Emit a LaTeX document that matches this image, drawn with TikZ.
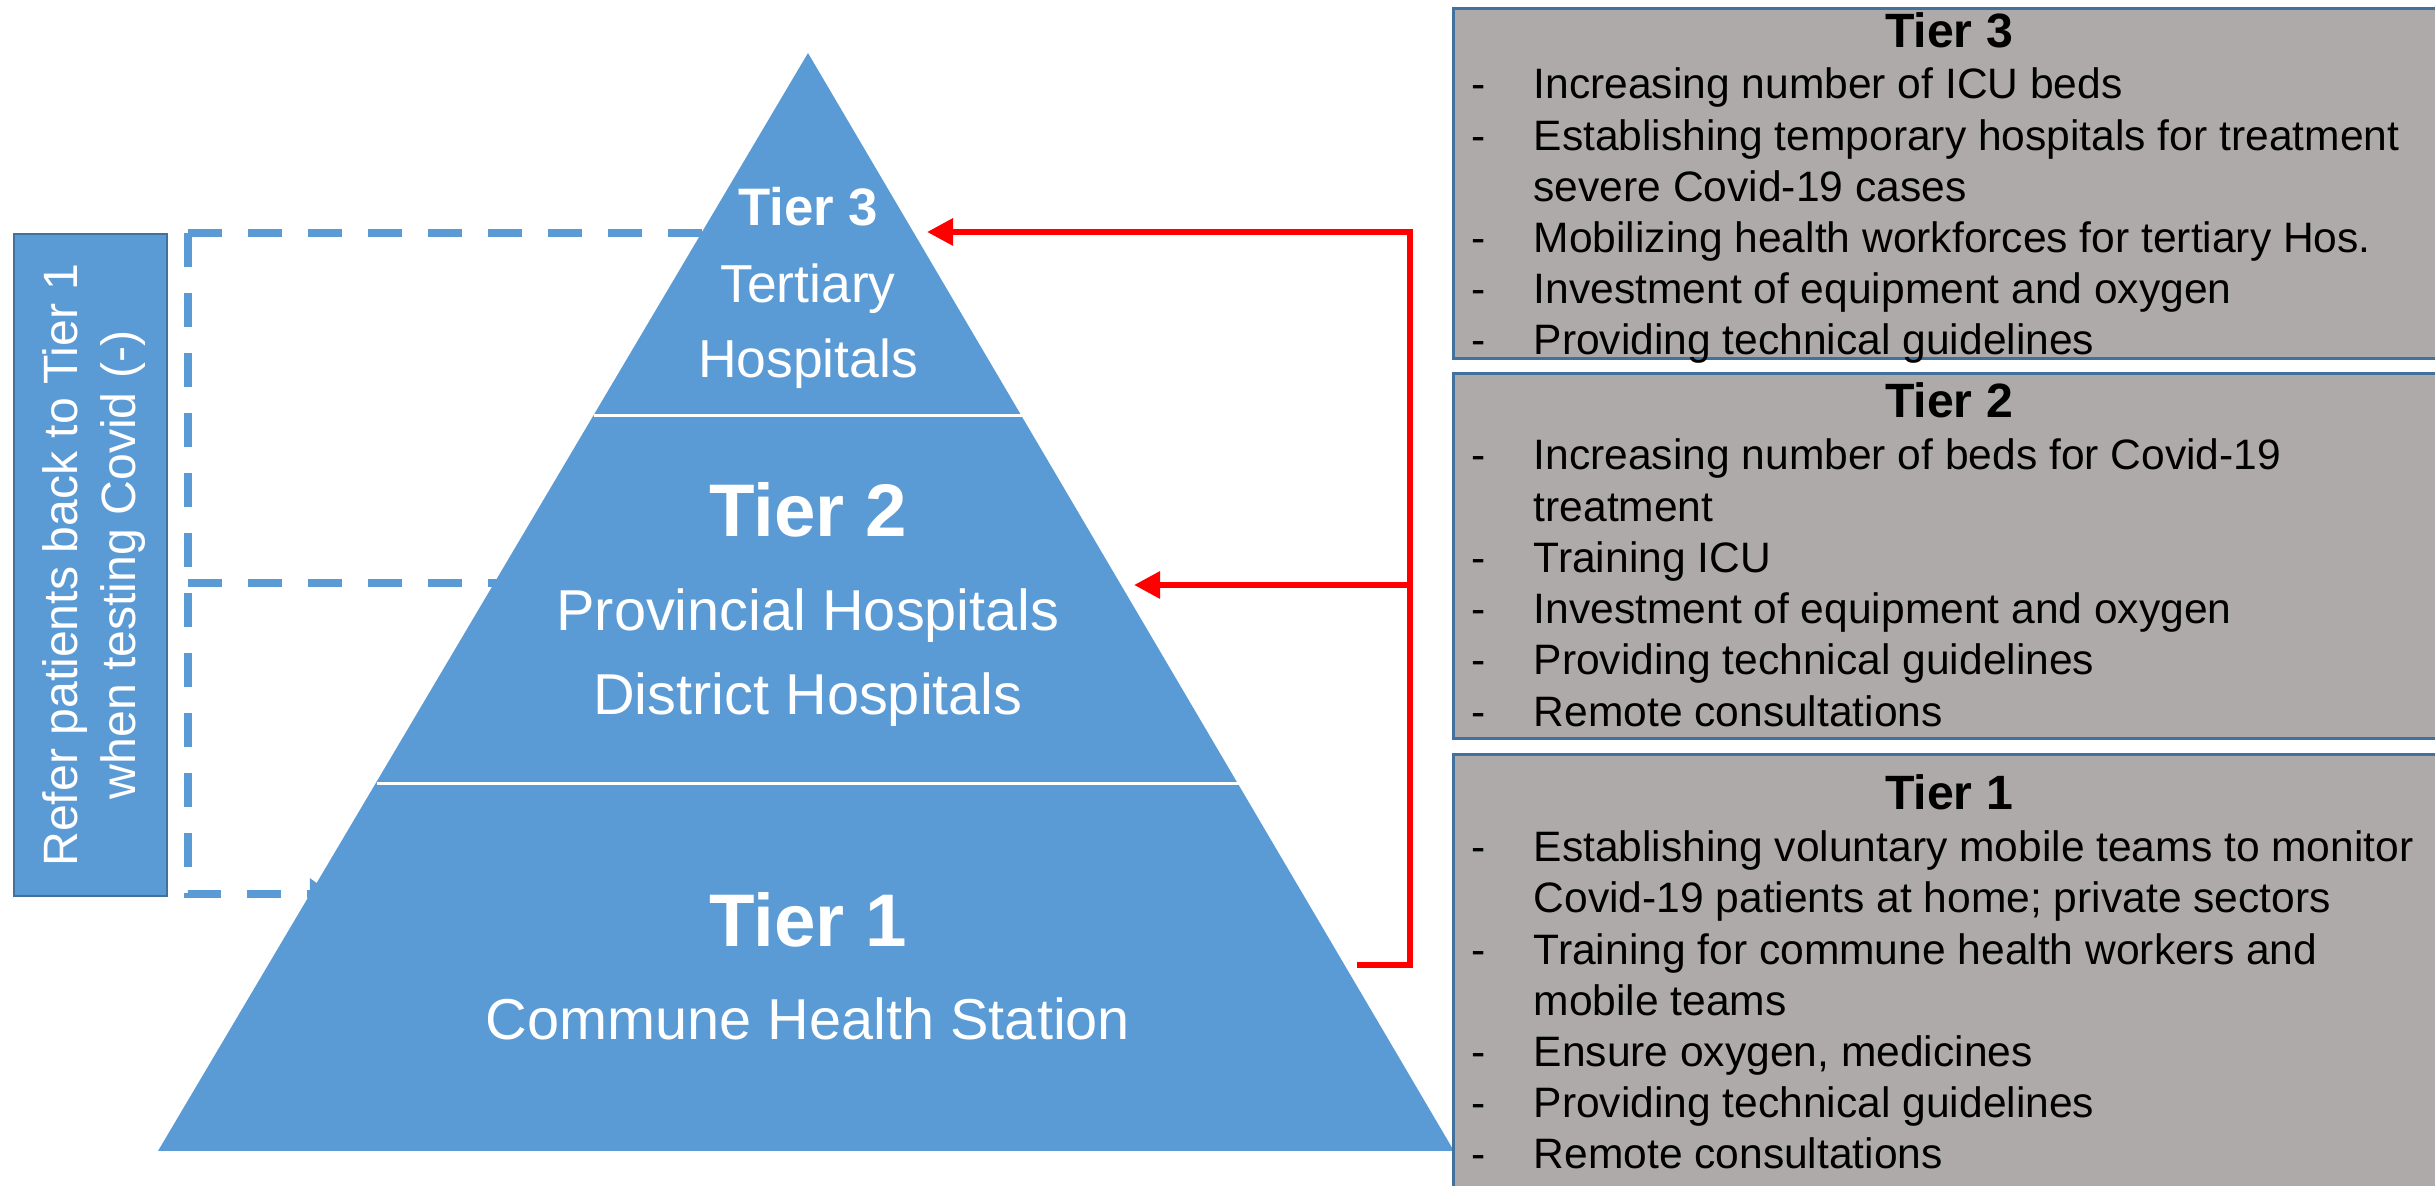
\documentclass[tikz,border=0pt]{standalone}
\usepackage{fontspec}
\setmainfont{Liberation Sans}
\usetikzlibrary{arrows.meta}
\definecolor{pyrblue}{HTML}{5B9BD5}
\definecolor{edgeblue}{HTML}{41719C}
\definecolor{boxgray}{HTML}{AEAAAA}
\definecolor{redline}{HTML}{FF0000}
\begin{document}
\begin{tikzpicture}[x=0.01cm,y=-0.01cm,
  pyrtext/.style={text=white, inner sep=0, anchor=base},
  boxline/.style={anchor=base west, inner sep=0, font=\fontsize{12.1}{14.5}\selectfont},
  boxhead/.style={anchor=base, inner sep=0, font=\fontsize{13.7}{16}\selectfont\bfseries},
  infobox/.style={fill=boxgray, draw=edgeblue, line width=0.03cm, anchor=north west, inner sep=0, minimum width=10cm},
  redconn/.style={draw=redline, line width=0.06cm},
  redarrow/.style={redconn, -{Triangle[length=0.26cm,width=0.26cm]}},
  dashconn/.style={draw=pyrblue, line width=0.085cm, dash pattern=on 0.34cm off 0.26cm},
]
\useasboundingbox (0,0) rectangle (2435,1186);

% ---------- left note box ----------
\node[fill=pyrblue, draw=edgeblue, line width=0.02cm, anchor=north west, inner sep=0,
      minimum width=1.53cm, minimum height=6.62cm] (refer) at (13,233) {};
\node[rotate=90, text=white, align=center, inner sep=0,
      font=\fontsize{13.7}{16.3}\selectfont] (refertxt) at (94,565)
      {Refer patients back to Tier 1\\when testing Covid (-)};

% ---------- dashed return connectors (behind pyramid) ----------
\coordinate (t3left) at (720,233);
\coordinate (dtop) at (188,233);
\coordinate (dmid) at (188,583);
\coordinate (dbot) at (188,894);
\coordinate (t2left) at (510,583);
\coordinate (t1left) at (332,894);
\draw[dashconn] (dtop) -- (t3left);
\draw[dashconn, -{Triangle[length=0.22cm,width=0.3cm]}] (dtop) -- (dbot) -- (t1left);
\draw[dashconn] (dmid) -- (t2left);

% ---------- pyramid ----------
\coordinate (apex) at (808,53);
\coordinate (bl) at (158,1151);
\coordinate (br) at (1454,1151);
\fill[pyrblue] (apex) -- (bl) -- (br) -- cycle;
\coordinate (d3l) at (594,416);
\coordinate (d3r) at (1022,416);
\coordinate (d2l) at (377,784);
\coordinate (d2r) at (1239,784);
\draw[white, line width=0.03cm] (d3l) -- (d3r);
\draw[white, line width=0.03cm] (d2l) -- (d2r);

\node[pyrtext, font=\fontsize{15}{18}\selectfont\bfseries] (p3a) at (808,226) {Tier 3};
\node[pyrtext, font=\fontsize{15.2}{18}\selectfont] (p3b) at (808,303) {Tertiary};
\node[pyrtext, font=\fontsize{15.2}{18}\selectfont] (p3c) at (808,378) {Hospitals};
\node[pyrtext, font=\fontsize{21.2}{24}\selectfont\bfseries] (p2a) at (808,537) {Tier 2};
\node[pyrtext, font=\fontsize{16.4}{20}\selectfont] (p2b) at (808,631) {Provincial Hospitals};
\node[pyrtext, font=\fontsize{16.4}{20}\selectfont] (p2c) at (808,715) {District Hospitals};
\node[pyrtext, font=\fontsize{21.2}{24}\selectfont\bfseries] (p1a) at (808,947) {Tier 1};
\node[pyrtext, font=\fontsize{16.4}{20}\selectfont] (p1b) at (808,1040) {Commune Health Station};

% ---------- red connectors ----------
\coordinate (rstub) at (1357,965);
\coordinate (rbot) at (1410,965);
\coordinate (rtop) at (1410,232);
\coordinate (rmid) at (1410,585);
\coordinate (t3in) at (927,232);
\coordinate (t2in) at (1134,585);
\draw[redarrow] (rstub) -- (rbot) -- (rtop) -- (t3in);
\draw[redarrow] (rmid) -- (t2in);

% ---------- right info boxes ----------
\node[infobox, minimum height=3.5cm] (box3) at (1452,7) {};
\node[infobox, minimum height=3.65cm] (box2) at (1452,372) {};
\node[infobox, minimum height=4.6cm] (box1) at (1452,753) {};

% Tier 3 box
\node[boxhead] (h3) at (1949,48) {Tier 3};
\node[boxline] (b3d1) at (1471,99) {-};
\node[boxline] (b3l1) at (1533,99) {Increasing number of ICU beds};
\node[boxline] (b3d2) at (1471,151) {-};
\node[boxline] (b3l2) at (1533,151) {Establishing temporary hospitals for treatment};
\node[boxline] (b3l3) at (1533,202) {severe Covid-19 cases};
\node[boxline] (b3d4) at (1471,253) {-};
\node[boxline] (b3l4) at (1533,253) {Mobilizing health workforces for tertiary Hos.};
\node[boxline] (b3d5) at (1471,304) {-};
\node[boxline] (b3l5) at (1533,304) {Investment of equipment and oxygen};
\node[boxline] (b3d6) at (1471,355) {-};
\node[boxline] (b3l6) at (1533,355) {Providing technical guidelines};

% Tier 2 box
\node[boxhead] (h2) at (1949,418) {Tier 2};
\node[boxline] (b2d1) at (1471,470) {-};
\node[boxline] (b2l1) at (1533,470) {Increasing number of beds for Covid-19};
\node[boxline] (b2l2) at (1533,522) {treatment};
\node[boxline] (b2d3) at (1471,573) {-};
\node[boxline] (b2l3) at (1533,573) {Training ICU};
\node[boxline] (b2d4) at (1471,624) {-};
\node[boxline] (b2l4) at (1533,624) {Investment of equipment and oxygen};
\node[boxline] (b2d5) at (1471,675) {-};
\node[boxline] (b2l5) at (1533,675) {Providing technical guidelines};
\node[boxline] (b2d6) at (1471,727) {-};
\node[boxline] (b2l6) at (1533,727) {Remote consultations};

% Tier 1 box
\node[boxhead] (h1) at (1949,810) {Tier 1};
\node[boxline] (b1d1) at (1471,862) {-};
\node[boxline] (b1l1) at (1533,862) {Establishing voluntary mobile teams to monitor};
\node[boxline] (b1l2) at (1533,913) {Covid-19 patients at home; private sectors};
\node[boxline] (b1d3) at (1471,965) {-};
\node[boxline] (b1l3) at (1533,965) {Training for commune health workers and};
\node[boxline] (b1l4) at (1533,1016) {mobile teams};
\node[boxline] (b1d5) at (1471,1067) {-};
\node[boxline] (b1l5) at (1533,1067) {Ensure oxygen, medicines};
\node[boxline] (b1d6) at (1471,1118) {-};
\node[boxline] (b1l6) at (1533,1118) {Providing technical guidelines};
\node[boxline] (b1d7) at (1471,1169) {-};
\node[boxline] (b1l7) at (1533,1169) {Remote consultations};
\end{tikzpicture}
\end{document}
